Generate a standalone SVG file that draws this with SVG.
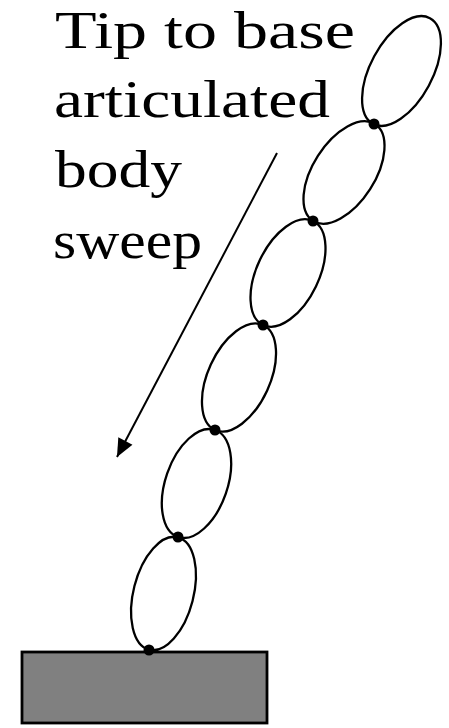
<svg xmlns="http://www.w3.org/2000/svg" width="449" height="728" viewBox="0 0 449 728">
<style>
.link{fill:none;stroke:#000;stroke-width:2.3}
.joint{fill:#000}
.lbl{font-family:"Liberation Serif","Times New Roman",serif;font-size:52px;fill:#000}
</style>
<defs>
<marker id="ah" viewBox="0 0 18 16" refX="18" refY="8" markerWidth="18" markerHeight="16" markerUnits="userSpaceOnUse" orient="auto" overflow="visible">
<path d="M0,0 L18,8 L0,16 Z" fill="#000"/>
</marker>
</defs>
<rect width="449" height="728" fill="#fff"/>
<g id="label">
<text class="lbl" x="55" y="48" textLength="300" lengthAdjust="spacingAndGlyphs">Tip to base</text>
<text class="lbl" x="54" y="117" textLength="276" lengthAdjust="spacingAndGlyphs">articulated</text>
<text class="lbl" x="55" y="187" textLength="127" lengthAdjust="spacingAndGlyphs">body</text>
<text class="lbl" x="53" y="258" textLength="149" lengthAdjust="spacingAndGlyphs">sweep</text>
</g>
<g id="base"><rect x="22" y="652" width="245" height="71" fill="#808080" stroke="#000" stroke-width="2.8"/></g>
<g id="link1"><ellipse class="link" cx="163.5" cy="593.5" rx="30" ry="58" transform="rotate(14.4 163.5 593.5)"/></g>
<g id="link2"><ellipse class="link" cx="196.5" cy="483.5" rx="31" ry="56.6" transform="rotate(19.1 196.5 483.5)"/></g>
<g id="link3"><ellipse class="link" cx="239" cy="377.5" rx="31" ry="57.7" transform="rotate(24.6 239 377.5)"/></g>
<g id="link4"><ellipse class="link" cx="288" cy="273" rx="31" ry="57.7" transform="rotate(25.7 288 273)"/></g>
<g id="link5"><ellipse class="link" cx="344" cy="172.5" rx="31" ry="57.5" transform="rotate(32.6 344 172.5)"/></g>
<g id="link6"><ellipse class="link" cx="401.5" cy="71" rx="31" ry="60" transform="rotate(28.3 401.5 71)"/></g>
<g id="joints">
<circle class="joint" cx="149" cy="650" r="5.5"/>
<circle class="joint" cx="178" cy="537" r="5.5"/>
<circle class="joint" cx="215" cy="430" r="5.5"/>
<circle class="joint" cx="263" cy="325" r="5.5"/>
<circle class="joint" cx="313" cy="221" r="5.5"/>
<circle class="joint" cx="374" cy="124" r="5.5"/>
</g>
<g id="connectors">
<line x1="277" y1="153" x2="117" y2="457" stroke="#000" stroke-width="2" marker-end="url(#ah)"/>
</g>
</svg>
